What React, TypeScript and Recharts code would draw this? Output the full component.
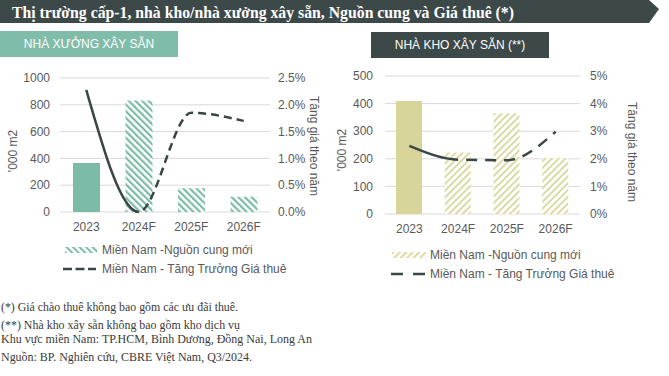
import React, { useEffect, useState } from 'react';
import { ComposedChart, Bar, Line, XAxis, YAxis, CartesianGrid, Cell, Legend, Label } from 'recharts';

// ---------- data ----------
const categories = ['2023', '2024F', '2025F', '2026F'];
const factorySupply = [365, 832, 177, 114];
const factoryGrowth = [2.28, 0.0, 1.85, 1.7];
const warehouseSupply = [409, 223, 365, 202];
const warehouseGrowth = [2.47, 1.97, 1.95, 2.98];

const factoryLeftTicks = [0, 200, 400, 600, 800, 1000];
const factoryRightTicks = [0, 0.5, 1.0, 1.5, 2.0, 2.5];
const warehouseLeftTicks = [0, 100, 200, 300, 400, 500];
const warehouseRightTicks = [0, 1, 2, 3, 4, 5];

const titleText = 'Thị trường cấp-1, nhà kho/nhà xưởng xây sẵn, Nguồn cung và Giá thuê (*)';
const leftHeader = 'NHÀ XƯỞNG XÂY SẴN';
const rightHeader = 'NHÀ KHO XÂY SẴN (**)';
const legendSupply = 'Miền Nam -Nguồn cung mới';
const legendGrowth = 'Miền Nam - Tăng Trưởng Giá thuê';
const yLeftTitle = "'000 m2";
const yRightTitle = 'Tăng giá theo năm';
const footnotes = [
  '(*) Giá chào thuê không bao gồm các ưu đãi thuê.',
  '(**) Nhà kho xây sẵn không bao gồm kho dịch vụ',
  'Khu vực miền Nam: TP.HCM, Bình Dương, Đồng Nai, Long An',
  'Nguồn: BP. Nghiên cứu, CBRE Việt Nam, Q3/2024.',
];

const factoryData = categories.map((c, i) => ({ cat: c, supply: factorySupply[i], growth: factoryGrowth[i] }));
const warehouseData = categories.map((c, i) => ({ cat: c, supply: warehouseSupply[i], growth: warehouseGrowth[i] }));

// ---------- styles ----------
const DARK = '#3d4848';
const TEAL = '#7dbba9';
const KHAKI = '#d8d59b';
const KHAKI_STRIPE = '#dcd8a0';
const LINE = '#3a4545';
const AXIS_TEXT = '#595959';
const SANS = '"Liberation Sans", Arial, sans-serif';
const SERIF = '"Liberation Serif", "Times New Roman", serif';

function computeDash(cls: string, dash: number, gap: number): string | null {
  const path =
    (document.querySelector('.' + cls + ' .recharts-line-curve') as SVGPathElement | null) ||
    (document.querySelector('path.' + cls) as SVGPathElement | null) ||
    (document.querySelector('.' + cls + ' path') as SVGPathElement | null);
  if (!path) return null;
  const d = path.getAttribute('d') || '';
  const i1 = d.indexOf('C');
  const i2 = i1 >= 0 ? d.indexOf('C', i1 + 1) : -1;
  if (i2 < 0) return null;
  const tmp = document.createElementNS('http://www.w3.org/2000/svg', 'path');
  tmp.setAttribute('d', d.slice(0, i2));
  path.parentNode && path.parentNode.appendChild(tmp);
  const first = tmp.getTotalLength();
  tmp.remove();
  const total = path.getTotalLength();
  const parts: number[] = [first, gap];
  let rem = total - first - gap;
  while (rem > -dash) {
    parts.push(dash, gap);
    rem -= dash + gap;
  }
  parts.push(dash, total);
  return parts.map((p) => p.toFixed(2)).join(' ');
}

const RotLabel = (props: any) => {
  const { viewBox, dx, dy, angle, text } = props;
  const vb = viewBox || { x: 0, y: 0, width: 0, height: 0 };
  const cx = vb.x + dx;
  const cy = vb.y + vb.height / 2 + dy;
  return (
    <text
      x={cx}
      y={cy}
      transform={`rotate(${angle} ${cx} ${cy})`}
      textAnchor="middle"
      dominantBaseline="central"
      fill={AXIS_TEXT}
      fontSize={12}
      fontFamily={SANS}
    >
      {text}
    </text>
  );
};

const makeLegend = (variant: 'left' | 'right') => () => {
  const isLeft = variant === 'left';
  const swX = isLeft ? 65 : 62;
  const textX = isLeft ? 102 : 100;
  const row1 = isLeft ? 16 : 19;
  const row2 = isLeft ? 35 : 38;
  return (
    <div style={{ position: 'relative', width: 330, height: 46, fontFamily: SANS, fontSize: 12, color: AXIS_TEXT }}>
      <svg width={330} height={46} style={{ position: 'absolute', left: 0, top: 0 }}>
        <defs>
          <pattern id={'lg-' + variant} patternUnits="userSpaceOnUse" width={4.6} height={4.6} patternTransform={`rotate(${isLeft ? -45 : 45})`}>
            <rect width={4.6} height={4.6} fill="#fff" />
            <rect width={2} height={4.6} fill={isLeft ? TEAL : KHAKI_STRIPE} />
          </pattern>
        </defs>
        <rect x={swX} y={row1 - 3} width={isLeft ? 32 : 34} height={6} fill={`url(#lg-${variant})`} />
        <line
          x1={isLeft ? 63 : 61}
          x2={isLeft ? 96 : 95}
          y1={row2}
          y2={row2}
          stroke={LINE}
          strokeWidth={2.5}
          strokeDasharray={isLeft ? '9 3.5' : '12 10'}
        />
      </svg>
      <div style={{ position: 'absolute', left: textX, top: row1 - 8, lineHeight: '16px', whiteSpace: 'nowrap' }}>{legendSupply}</div>
      <div style={{ position: 'absolute', left: textX, top: row2 - 8, lineHeight: '16px', whiteSpace: 'nowrap' }}>{legendGrowth}</div>
    </div>
  );
};

export default function App() {
  const [dashL, setDashL] = useState<string | undefined>(undefined);
  const [dashR, setDashR] = useState<string | undefined>(undefined);

  useEffect(() => {
    let tries = 0;
    let raf = 0;
    let doneL = false;
    let doneR = false;
    const tick = () => {
      if (!doneL) {
        const v = computeDash('growth-left', 8, 5);
        if (v) { doneL = true; setDashL(v); }
      }
      if (!doneR) {
        const v = computeDash('growth-right', 11, 8);
        if (v) { doneR = true; setDashR(v); }
      }
      if ((!doneL || !doneR) && tries++ < 200) raf = requestAnimationFrame(tick);
    };
    raf = requestAnimationFrame(tick);
    return () => cancelAnimationFrame(raf);
  }, []);

  const tickStyle = { fill: AXIS_TEXT, fontSize: 12, fontFamily: SANS };

  return (
    <div style={{ position: 'absolute', left: 0, top: 0, width: 669, height: 376, background: '#fff', overflow: 'hidden', fontFamily: SANS }}>
      {/* title banner */}
      <svg width={669} height={24} style={{ position: 'absolute', left: 0, top: 0 }}>
        <polygon points="0,0 649,0 659,9 649,23 0,23" fill={DARK} />
        <text x={12} y={17.5} fill="#fff" fontFamily={SERIF} fontWeight="bold" fontSize={17.5} textLength={502} lengthAdjust="spacingAndGlyphs">
          {titleText}
        </text>
      </svg>

      {/* panel headers */}
      <div style={{ position: 'absolute', left: 0, top: 31, width: 178, height: 26, background: '#7fbcaa', color: '#fff', fontSize: 12, display: 'flex', alignItems: 'center', justifyContent: 'center' }}>
        {leftHeader}
      </div>
      <div style={{ position: 'absolute', left: 371, top: 32, width: 178, height: 26, background: DARK, color: '#fff', fontSize: 12, display: 'flex', alignItems: 'center', justifyContent: 'center' }}>
        {rightHeader}
      </div>

      {/* left chart: factories */}
      <div style={{ position: 'absolute', left: 0, top: 60 }}>
        <ComposedChart width={330} height={220} data={factoryData} margin={{ top: 18, right: 0, bottom: 0, left: 0 }}>
          <defs>
            <pattern id="hatchTeal" patternUnits="userSpaceOnUse" width={4.7} height={4.7} patternTransform="rotate(-45)">
              <rect width={4.7} height={4.7} fill="#fff" />
              <rect width={2.2} height={4.7} fill={TEAL} />
            </pattern>
          </defs>
          <CartesianGrid yAxisId="l" vertical={false} stroke="#d9d9d9" />
          <XAxis dataKey="cat" axisLine={false} tickLine={false} tickMargin={4} height={22} tick={tickStyle} interval={0} />
          <YAxis yAxisId="l" orientation="left" width={60} domain={[0, 1000]} ticks={factoryLeftTicks} axisLine={false} tickLine={false} tickSize={0} tickMargin={10} tick={tickStyle}>
            <Label content={(p: any) => <RotLabel {...p} dx={13} dy={6} angle={-90} text={yLeftTitle} />} />
          </YAxis>
          <YAxis yAxisId="r" orientation="right" width={60} domain={[0, 2.5]} ticks={factoryRightTicks} axisLine={false} tickLine={false} tickSize={0} tickMargin={8} tick={tickStyle} tickFormatter={(v: number) => v.toFixed(1) + '%'}>
            <Label content={(p: any) => <RotLabel {...p} dx={44} dy={1} angle={90} text={yRightTitle} />} />
          </YAxis>
          <Bar yAxisId="l" dataKey="supply" barSize={27} isAnimationActive={false}>
            {factoryData.map((d, i) => (
              <Cell key={d.cat} fill={i === 0 ? TEAL : 'url(#hatchTeal)'} />
            ))}
          </Bar>
          <Line
            yAxisId="r"
            className="growth-left"
            type="monotone"
            dataKey="growth"
            stroke={LINE}
            strokeWidth={2.5}
            strokeDasharray={dashL}
            dot={false}
            activeDot={false}
            isAnimationActive={false}
          />
          <Legend verticalAlign="bottom" align="left" height={46} content={makeLegend('left')} wrapperStyle={{ left: 0, width: 330 }} />
        </ComposedChart>
      </div>

      {/* right chart: warehouses */}
      <div style={{ position: 'absolute', left: 330, top: 60 }}>
        <ComposedChart width={339} height={222} data={warehouseData} margin={{ top: 16, right: 0, bottom: 0, left: 0 }}>
          <defs>
            <pattern id="hatchKhaki" patternUnits="userSpaceOnUse" width={4.8} height={4.8} patternTransform="rotate(45)">
              <rect width={4.8} height={4.8} fill="#fff" />
              <rect width={1.9} height={4.8} fill={KHAKI_STRIPE} />
            </pattern>
          </defs>
          <CartesianGrid yAxisId="l" vertical={false} stroke="#d9d9d9" />
          <XAxis dataKey="cat" axisLine={false} tickLine={false} tickMargin={4} height={22} tick={tickStyle} interval={0} />
          <YAxis yAxisId="l" orientation="left" width={55} domain={[0, 500]} ticks={warehouseLeftTicks} axisLine={false} tickLine={false} tickSize={0} tickMargin={12} tick={tickStyle}>
            <Label content={(p: any) => <RotLabel {...p} dx={12} dy={5} angle={-90} text={yLeftTitle} />} />
          </YAxis>
          <YAxis yAxisId="r" orientation="right" width={89} domain={[0, 5]} ticks={warehouseRightTicks} axisLine={false} tickLine={false} tickSize={0} tickMargin={10} tick={tickStyle} tickFormatter={(v: number) => v.toFixed(0) + '%'}>
            <Label content={(p: any) => <RotLabel {...p} dx={52} dy={7} angle={90} text={yRightTitle} />} />
          </YAxis>
          <Bar yAxisId="l" dataKey="supply" barSize={26} isAnimationActive={false}>
            {warehouseData.map((d, i) => (
              <Cell key={d.cat} fill={i === 0 ? KHAKI : 'url(#hatchKhaki)'} />
            ))}
          </Bar>
          <Line
            yAxisId="r"
            className="growth-right"
            type="monotone"
            dataKey="growth"
            stroke={LINE}
            strokeWidth={2.5}
            strokeDasharray={dashR}
            dot={false}
            activeDot={false}
            isAnimationActive={false}
          />
          <Legend verticalAlign="bottom" align="left" height={46} content={makeLegend('right')} wrapperStyle={{ left: 0, width: 330 }} />
        </ComposedChart>
      </div>

      {/* footnotes */}
      <svg width={669} height={91} style={{ position: 'absolute', left: 0, top: 285 }}>
        <text x={1} y={25.5} fontFamily={SERIF} fontSize={11.5} fill="#3a3a3a" textLength={237} lengthAdjust="spacingAndGlyphs">{footnotes[0]}</text>
        <text x={1} y={44} fontFamily={SERIF} fontSize={11.5} fill="#3a3a3a" textLength={239} lengthAdjust="spacingAndGlyphs">{footnotes[1]}</text>
        <text x={1} y={57.5} fontFamily={SERIF} fontSize={11.5} fill="#3a3a3a" textLength={311} lengthAdjust="spacingAndGlyphs">{footnotes[2]}</text>
        <text x={1} y={75.5} fontFamily={SERIF} fontSize={11.5} fill="#3a3a3a" textLength={251} lengthAdjust="spacingAndGlyphs">{footnotes[3]}</text>
      </svg>
    </div>
  );
}
